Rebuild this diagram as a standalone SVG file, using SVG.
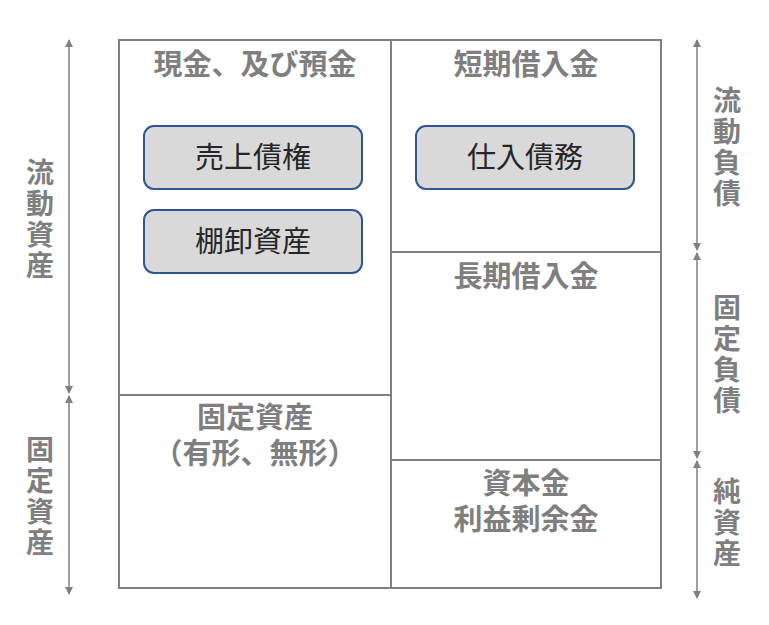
<svg xmlns="http://www.w3.org/2000/svg" width="769" height="625" viewBox="0 0 769 625">
<style>
.t{font-family:"Noto Sans CJK JP","Liberation Sans",sans-serif;font-weight:bold;fill:#7f7f7f;font-size:29px;text-anchor:middle}
.v{font-family:"Noto Sans CJK JP","Liberation Sans",sans-serif;font-weight:bold;fill:#7f7f7f;font-size:28px;text-anchor:middle}
.b{fill:#d9d9d9;stroke:#2f5597;stroke-width:2}
.bt{font-family:"Noto Sans CJK JP","Liberation Sans",sans-serif;fill:#262626;font-size:29px;text-anchor:middle}
.ln{stroke:#808080;stroke-width:2;fill:none}
.ar{stroke:#808080;stroke-width:1.5;fill:none}
</style>
<defs><marker id="m" markerWidth="8" markerHeight="8" refX="7" refY="4" orient="auto-start-reverse" markerUnits="userSpaceOnUse" viewBox="0 0 8 8"><path d="M0,0L8,4L0,8z" fill="#808080"/></marker></defs>
<rect id="frame" x="119" y="40" width="542" height="548" class="ln"/>
<g id="dividers">
<line x1="391" y1="40" x2="391" y2="588" class="ln"/>
<line x1="119" y1="395" x2="391" y2="395" class="ln"/>
<line x1="391" y1="252" x2="661" y2="252" class="ln"/>
<line x1="391" y1="460" x2="661" y2="460" class="ln"/>
</g>
<g id="connectors">
<line x1="69" y1="40" x2="69" y2="393" class="ar" marker-start="url(#m)" marker-end="url(#m)"/>
<line x1="69" y1="396" x2="69" y2="594" class="ar" marker-start="url(#m)" marker-end="url(#m)"/>
<line x1="697" y1="40" x2="697" y2="250" class="ar" marker-start="url(#m)" marker-end="url(#m)"/>
<line x1="697" y1="253" x2="697" y2="458" class="ar" marker-start="url(#m)" marker-end="url(#m)"/>
<line x1="697" y1="461" x2="697" y2="598" class="ar" marker-start="url(#m)" marker-end="url(#m)"/>
</g>
<g id="cash"><text x="255" y="75" class="t">現金、及び預金</text></g>
<g id="short"><text x="526" y="75" class="t">短期借入金</text></g>
<g id="long"><text x="526" y="287" class="t">長期借入金</text></g>
<g id="fixed"><text x="255" y="428" class="t">固定資産</text><text x="255" y="464" class="t">（有形、無形）</text></g>
<g id="equity"><text x="526" y="494" class="t">資本金</text><text x="526" y="530" class="t">利益剰余金</text></g>
<g id="receivable"><rect x="144" y="126" width="218" height="63" rx="10" class="b"/><text x="253" y="168" class="bt">売上債権</text></g>
<g id="inventory"><rect x="144" y="210" width="218" height="63" rx="10" class="b"/><text x="253" y="252" class="bt">棚卸資産</text></g>
<g id="payable"><rect x="416" y="126" width="218" height="63" rx="10" class="b"/><text x="525" y="168" class="bt">仕入債務</text></g>
<g id="labels">
<text class="v" x="40"><tspan x="40" y="183">流</tspan><tspan x="40" y="214">動</tspan><tspan x="40" y="245">資</tspan><tspan x="40" y="276">産</tspan></text>
<text class="v" x="40"><tspan x="40" y="460">固</tspan><tspan x="40" y="491">定</tspan><tspan x="40" y="522">資</tspan><tspan x="40" y="553">産</tspan></text>
<text class="v" x="727"><tspan x="727" y="111">流</tspan><tspan x="727" y="142">動</tspan><tspan x="727" y="173">負</tspan><tspan x="727" y="204">債</tspan></text>
<text class="v" x="727"><tspan x="727" y="318">固</tspan><tspan x="727" y="349">定</tspan><tspan x="727" y="380">負</tspan><tspan x="727" y="411">債</tspan></text>
<text class="v" x="727"><tspan x="727" y="502">純</tspan><tspan x="727" y="533">資</tspan><tspan x="727" y="564">産</tspan></text>
</g>
</svg>
